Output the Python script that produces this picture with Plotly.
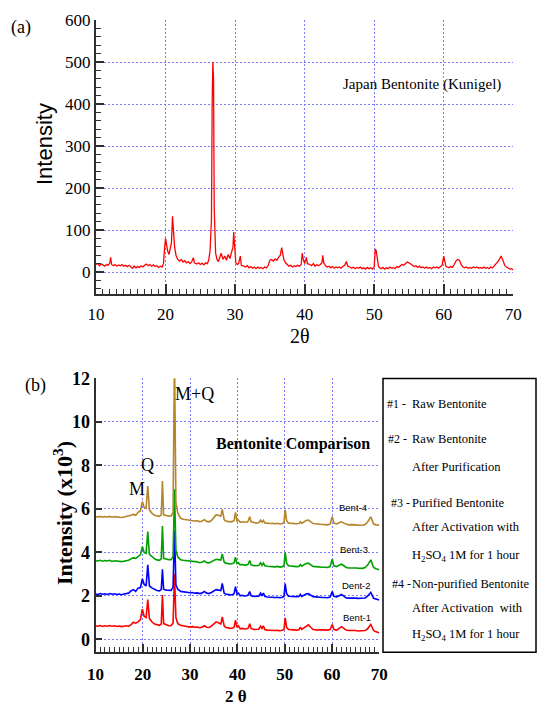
import plotly.graph_objects as go

W, H = 537, 708

# ---------------- data: panel (a) Japan Bentonite (Kunigel) ----------------
a_x = [
    10.0, 10.25, 10.5, 10.75, 11.0, 11.25, 11.5, 11.75, 12.0, 12.1,
    12.25, 12.5, 12.75, 13.0, 13.25, 13.5, 13.75, 14.0, 14.25, 14.5,
    14.75, 15.0, 15.25, 15.5, 15.75, 16.0, 16.25, 16.5, 16.75, 17.0,
    17.25, 17.5, 17.75, 18.0, 18.25, 18.5, 18.75, 19.0, 19.25, 19.5,
    19.7, 19.85, 20.0, 20.15, 20.3, 20.5, 20.7, 20.85, 21.0, 21.15,
    21.3, 21.5, 21.75, 22.0, 22.25, 22.5, 22.75, 23.0, 23.25, 23.5,
    23.75, 24.0, 24.15, 24.5, 24.75, 25.0, 25.25, 25.5, 25.75, 26.0,
    26.2, 26.4, 26.6, 26.7, 26.8, 26.9, 27.0, 27.2, 27.4, 27.6,
    27.75, 28.0, 28.25, 28.5, 28.75, 29.0, 29.25, 29.5, 29.7, 29.8,
    29.95, 30.1, 30.3, 30.5, 30.75, 30.9, 31.25, 31.5, 31.75, 32.0,
    32.25, 32.5, 32.75, 33.0, 33.25, 33.5, 33.75, 34.0, 34.25, 34.5,
    34.75, 35.0, 35.25, 35.5, 35.75, 36.0, 36.25, 36.5, 36.7, 36.85,
    37.0, 37.25, 37.5, 37.75, 38.0, 38.25, 38.5, 38.75, 39.0, 39.25,
    39.5, 39.65, 39.8, 40.0, 40.25, 40.4, 40.75, 41.0, 41.25, 41.5,
    41.75, 42.0, 42.25, 42.5, 42.6, 42.75, 43.0, 43.25, 43.5, 43.75,
    44.0, 44.25, 44.5, 44.75, 45.0, 45.25, 45.5, 45.75, 46.0, 46.2,
    46.5, 46.75, 47.0, 47.25, 47.5, 47.75, 48.0, 48.25, 48.5, 48.75,
    49.0, 49.25, 49.5, 49.75, 50.0, 50.15, 50.3, 50.45, 50.6, 50.75,
    51.0, 51.25, 51.5, 51.75, 52.0, 52.25, 52.5, 52.75, 53.0, 53.25,
    53.5, 53.75, 54.0, 54.25, 54.5, 54.75, 55.0, 55.25, 55.5, 55.75,
    56.0, 56.25, 56.5, 56.75, 57.0, 57.25, 57.5, 57.75, 58.0, 58.25,
    58.5, 58.75, 59.0, 59.25, 59.5, 59.75, 60.0, 60.15, 60.3, 60.5,
    60.75, 61.0, 61.25, 61.5, 61.75, 62.0, 62.25, 62.5, 62.75, 63.0,
    63.25, 63.5, 63.75, 64.0, 64.25, 64.5, 64.75, 65.0, 65.25, 65.5,
    65.75, 66.0, 66.25, 66.5, 66.75, 67.0, 67.25, 67.5, 67.75, 68.0,
    68.25, 68.4, 68.6, 68.8, 69.0, 69.25, 69.5, 69.75, 70.0,
]
a_y = [
    18, 20, 15, 19, 17, 14, 18, 16, 22, 35,
    18, 15, 18, 14, 17, 15, 18, 14, 16, 13,
    16, 12, 9, 14, 10, 13, 11, 15, 12, 16,
    19, 15, 18, 14, 17, 13, 15, 11, 14, 12,
    20, 55, 80, 65, 50, 42, 55, 70, 133, 95,
    60, 40, 30, 26, 30, 24, 27, 22, 25, 20,
    24, 34, 22, 19, 22, 18, 21, 17, 22, 20,
    28, 50, 125, 400, 500, 460, 150, 45, 30, 25,
    35, 45, 30, 38, 28, 42, 32, 45, 60, 95,
    45, 22, 18, 20, 38, 16, 14, 12, 15, 10,
    13, 9, 12, 8, 12, 9, 11, 8, 12, 10,
    15, 28, 30, 26, 31, 28, 35, 40, 58, 42,
    30, 22, 18, 14, 16, 12, 15, 13, 16, 14,
    18, 45, 30, 20, 35, 20, 18, 15, 20, 14,
    18, 15, 18, 22, 40, 22, 15, 12, 14, 10,
    13, 9, 12, 10, 12, 9, 13, 16, 25, 14,
    12, 9, 12, 8, 11, 9, 12, 8, 10, 7,
    11, 8, 10, 7, 12, 55, 50, 30, 15, 10,
    8, 11, 7, 10, 8, 12, 9, 11, 8, 13,
    11, 15, 18, 16, 20, 24, 22, 18, 16, 13,
    15, 11, 14, 10, 12, 9, 12, 9, 11, 8,
    12, 10, 12, 9, 13, 16, 38, 25, 14, 12,
    10, 13, 11, 18, 26, 30, 28, 18, 12, 10,
    12, 9, 11, 9, 12, 10, 12, 9, 11, 9,
    12, 9, 11, 8, 12, 10, 14, 18, 24, 30,
    38, 32, 22, 15, 12, 10, 7, 8, 5,
]
a_xticks = [10, 20, 30, 40, 50, 60, 70]
a_yticks = [0, 100, 200, 300, 400, 500, 600]

# ---------------- data: panel (b) Bentonite comparison (x10^3) ----------------
b_x = [
    10, 10.5, 11, 11.5, 12, 12.5, 13, 13.5, 14, 14.5,
    15, 15.5, 16, 16.5, 17, 17.5, 18, 18.5, 19, 19.5,
    19.9, 20.3, 20.7, 21.05, 21.4, 22, 22.5, 23, 23.5, 23.9,
    24.15, 24.4, 25, 25.5, 26, 26.4, 26.7, 27.0, 27.4, 28,
    28.5, 29, 29.5, 30, 30.5, 31, 31.5, 32, 32.5, 33,
    33.5, 34, 34.5, 35, 35.5, 36, 36.5, 36.8, 37.2, 37.5,
    38, 38.5, 39, 39.3, 39.6, 39.9, 40.2, 40.6, 41, 41.5,
    42, 42.3, 42.6, 42.9, 43.5, 44, 44.5, 44.9, 45.2, 45.5,
    45.8, 46.3, 47, 47.5, 48, 48.5, 49, 49.5, 49.85, 50.1,
    50.4, 50.8, 51.5, 52, 52.5, 53, 53.3, 53.6, 54, 54.5,
    55, 55.5, 56, 56.5, 57, 57.5, 58, 58.5, 59, 59.6,
    60.05, 60.4, 61, 61.5, 62, 62.5, 63, 63.5, 64, 64.5,
    65, 65.5, 66, 66.5, 67, 67.5, 68.2, 68.8, 69.3, 70,
]
bent1_y = [
    0.62, 0.60, 0.63, 0.59, 0.62, 0.60, 0.63, 0.60, 0.62, 0.59,
    0.61, 0.58, 0.60, 0.62, 0.60, 0.66, 0.78, 0.74, 0.80, 0.90,
    1.38, 1.05, 1.00, 1.82, 0.95, 0.78, 0.70, 0.66, 0.64, 0.70,
    2.03, 0.72, 0.66, 0.62, 0.63, 0.75, 3.00, 1.00, 0.72, 0.64,
    0.62, 0.60, 0.58, 0.56, 0.58, 0.55, 0.56, 0.53, 0.55, 0.62,
    0.55, 0.54, 0.60, 0.72, 0.80, 0.76, 0.70, 1.03, 0.62, 0.55,
    0.52, 0.50, 0.52, 0.55, 0.88, 0.55, 0.62, 0.48, 0.50, 0.47,
    0.48, 0.52, 0.71, 0.50, 0.45, 0.44, 0.46, 0.60, 0.50, 0.62,
    0.45, 0.42, 0.40, 0.42, 0.40, 0.41, 0.39, 0.41, 0.45, 0.98,
    0.55, 0.45, 0.43, 0.42, 0.42, 0.44, 0.56, 0.45, 0.52, 0.60,
    0.66, 0.55, 0.45, 0.44, 0.42, 0.44, 0.42, 0.43, 0.42, 0.45,
    0.68, 0.45, 0.42, 0.50, 0.58, 0.50, 0.42, 0.40, 0.41, 0.39,
    0.40, 0.38, 0.39, 0.37, 0.40, 0.48, 0.68, 0.40, 0.34, 0.30,
]
bent2_y = [
    2.08, 2.06, 2.10, 2.07, 2.09, 2.06, 2.10, 2.07, 2.09, 2.06,
    2.08, 2.05, 2.08, 2.10, 2.12, 2.22, 2.28, 2.20, 2.35, 2.38,
    2.78, 2.52, 2.45, 3.42, 2.45, 2.35, 2.28, 2.24, 2.22, 2.28,
    3.22, 2.30, 2.26, 2.24, 2.25, 2.40, 5.00, 2.50, 2.30, 2.20,
    2.18, 2.17, 2.15, 2.14, 2.15, 2.12, 2.13, 2.10, 2.12, 2.20,
    2.12, 2.10, 2.15, 2.22, 2.28, 2.26, 2.24, 2.57, 2.12, 2.08,
    2.06, 2.04, 2.06, 2.10, 2.42, 2.08, 2.12, 2.00, 2.02, 1.99,
    2.00, 2.05, 2.19, 2.00, 1.97, 1.96, 1.98, 2.12, 2.00, 2.12,
    1.97, 1.94, 1.92, 1.94, 1.92, 1.93, 1.91, 1.93, 1.97, 2.56,
    2.10, 1.98, 1.96, 1.95, 1.96, 1.97, 2.06, 1.97, 2.02, 2.08,
    2.10, 2.02, 1.96, 1.95, 1.93, 1.94, 1.92, 1.92, 1.91, 1.94,
    2.19, 1.98, 1.95, 2.00, 2.06, 1.98, 1.90, 1.89, 1.90, 1.88,
    1.89, 1.88, 1.88, 1.87, 1.90, 1.98, 2.15, 1.88, 1.84, 1.80,
]
bent3_y = [
    3.62, 3.60, 3.63, 3.59, 3.62, 3.60, 3.63, 3.58, 3.61, 3.59,
    3.60, 3.57, 3.59, 3.61, 3.63, 3.70, 3.74, 3.72, 3.82, 3.88,
    4.26, 3.98, 3.95, 4.95, 3.90, 3.78, 3.70, 3.65, 3.63, 3.70,
    5.21, 3.72, 3.68, 3.66, 3.66, 3.80, 6.90, 4.10, 3.78, 3.66,
    3.63, 3.62, 3.60, 3.57, 3.58, 3.55, 3.56, 3.52, 3.54, 3.60,
    3.52, 3.51, 3.56, 3.62, 3.68, 3.66, 3.64, 3.92, 3.55, 3.50,
    3.48, 3.46, 3.48, 3.52, 3.77, 3.48, 3.52, 3.42, 3.44, 3.41,
    3.42, 3.46, 3.62, 3.42, 3.38, 3.37, 3.39, 3.52, 3.40, 3.50,
    3.38, 3.36, 3.34, 3.36, 3.33, 3.35, 3.32, 3.34, 3.38, 4.00,
    3.50, 3.38, 3.35, 3.33, 3.34, 3.35, 3.44, 3.36, 3.42, 3.48,
    3.50, 3.42, 3.35, 3.34, 3.32, 3.33, 3.31, 3.31, 3.30, 3.34,
    3.68, 3.38, 3.34, 3.40, 3.45, 3.38, 3.30, 3.28, 3.29, 3.27,
    3.28, 3.27, 3.27, 3.26, 3.30, 3.40, 3.65, 3.30, 3.24, 3.20,
]
bent4_y = [
    5.64, 5.62, 5.65, 5.61, 5.64, 5.62, 5.65, 5.61, 5.64, 5.62,
    5.63, 5.60, 5.62, 5.64, 5.66, 5.70, 5.74, 5.70, 5.84, 5.90,
    6.33, 6.05, 6.02, 7.05, 5.95, 5.78, 5.70, 5.67, 5.65, 5.72,
    7.28, 5.72, 5.68, 5.66, 5.67, 5.85, 13.0, 6.30, 5.80, 5.56,
    5.52, 5.50, 5.48, 5.46, 5.47, 5.44, 5.45, 5.41, 5.43, 5.50,
    5.42, 5.40, 5.46, 5.60, 5.72, 5.70, 5.66, 5.97, 5.50, 5.44,
    5.42, 5.40, 5.42, 5.46, 5.83, 5.44, 5.48, 5.38, 5.40, 5.38,
    5.38, 5.44, 5.64, 5.40, 5.36, 5.34, 5.36, 5.48, 5.38, 5.46,
    5.35, 5.33, 5.32, 5.33, 5.31, 5.33, 5.30, 5.32, 5.36, 5.95,
    5.46, 5.34, 5.32, 5.30, 5.31, 5.32, 5.40, 5.33, 5.40, 5.46,
    5.48, 5.40, 5.32, 5.31, 5.29, 5.30, 5.28, 5.27, 5.26, 5.30,
    5.63, 5.34, 5.30, 5.36, 5.40, 5.34, 5.28, 5.26, 5.27, 5.25,
    5.26, 5.25, 5.25, 5.24, 5.28, 5.38, 5.63, 5.30, 5.26, 5.25,
]
b_series = ["Bent-1", "Bent-2", "Bent-3", "Bent-4"]
b_colors = ["#FF0000", "#0000FF", "#00A000", "#B5852A"]
b_yticks = [0, 2, 4, 6, 8, 10, 12]

legend_lines = [
    ("#1 -", "Raw Bentonite"),
    ("#2 -", "Raw Bentonite"),
    ("", "After Purification"),
    ("#3 -", "Purified Bentonite"),
    ("", "After Activation with"),
    ("", "H<sub>2</sub>SO<sub>4</sub> 1M for 1 hour"),
    ("#4 -", "Non-purified Bentonite"),
    ("", "After Activation  with"),
    ("", "H<sub>2</sub>SO<sub>4</sub> 1M for 1 hour"),
]

assert len(a_x) == len(a_y)
for s in (bent1_y, bent2_y, bent3_y, bent4_y):
    assert len(s) == len(b_x)

# ---------------- figure ----------------
SERIF = "Liberation Serif, Times New Roman, serif"
SANS = "Liberation Sans, Arial, sans-serif"
NARROW = "Liberation Sans Narrow, Arial Narrow, Liberation Sans, sans-serif"
AX = "#303030"
GRID = "#7B7BFF"


def fx(px):
    return px / W


def fy(py):
    return 1 - py / H


fig = go.Figure()
fig.add_trace(go.Scatter(x=a_x, y=a_y, mode="lines",
                         line=dict(color="#FF0000", width=1.3),
                         xaxis="x", yaxis="y", name="Kunigel"))
for name, ys, col in zip(b_series, [bent1_y, bent2_y, bent3_y, bent4_y], b_colors):
    fig.add_trace(go.Scatter(x=b_x, y=ys, mode="lines",
                             line=dict(color=col, width=1.6),
                             xaxis="x2", yaxis="y2", name=name))

common = dict(showline=True, linecolor=AX, linewidth=2, ticks="inside",
              tickcolor=AX, tickwidth=1.5, zeroline=False, showgrid=True,
              gridcolor=GRID, griddash="2px,2px", gridwidth=1, mirror=False,
              fixedrange=True, automargin=False)

fig.update_layout(
    template="none",
    width=W, height=H, autosize=False,
    margin=dict(l=0, r=0, t=0, b=0, pad=0, autoexpand=False),
    paper_bgcolor="white", plot_bgcolor="white",
    showlegend=False,
    font=dict(family=SERIF, color="black"),
    xaxis=dict(common, domain=[fx(96), fx(513.3)], range=[10, 70],
               tickvals=a_xticks, ticklen=10, anchor="y",
               tickfont=dict(family=SERIF, size=17, color="black"),
               ticklabelstandoff=3,
               minor=dict(dtick=1, tick0=10, ticklen=5, ticks="inside",
                          tickcolor=AX, tickwidth=1.2, showgrid=False)),
    yaxis=dict(common, domain=[fy(294.3), fy(20)], range=[-53, 600],
               tickvals=a_yticks, ticklen=8, anchor="x",
               tickfont=dict(family=SERIF, size=17, color="black"),
               minor=dict(dtick=20, tick0=0, ticklen=5, ticks="inside",
                          tickcolor=AX, tickwidth=1.2, showgrid=False)),
    xaxis2=dict(common, domain=[fx(95.5), fx(379.3)], range=[10, 70],
                tickvals=a_xticks, ticklen=8, anchor="y2",
                tickfont=dict(family=SERIF, size=17, color="black", weight="bold"),
                ticklabelstandoff=5,
                minor=dict(dtick=1, tick0=10, ticklen=5, ticks="inside",
                           tickcolor=AX, tickwidth=1.2, showgrid=False)),
    yaxis2=dict(common, domain=[fy(652.3), fy(378.3)], range=[-0.6, 12],
                tickvals=b_yticks, ticklen=6, anchor="x2",
                tickfont=dict(family=SERIF, size=18, color="black", weight="bold")),
)

anns = []


def ann(text, px, py, size, family=SERIF, xanchor="center", angle=0, bold=False):
    anns.append(dict(text=text, x=fx(px), y=fy(py), xref="paper", yref="paper",
                     xanchor=xanchor, yanchor="middle", showarrow=False,
                     textangle=angle, borderpad=0,
                     font=dict(family=family, size=size, color="black",
                               weight="bold" if bold else "normal")))


# panel (a)
ann("(a)", 21, 27, 18)
ann("Intensity", 44, 144, 22, family=SANS, angle=-90)
ann("Japan Bentonite (Kunigel)", 422, 84, 15)
ann("2θ", 300, 336, 20)

# panel (b)
ann("(b)", 35.5, 385.5, 18)
ann("Intensity (x10<sup>3</sup>)", 63, 513, 22, angle=-90, bold=True)
ann("M", 136.7, 489, 18)
ann("Q", 147, 465, 18)
ann("M+Q", 194, 394, 18)
ann("Bentonite Comparison", 292.6, 444, 16, bold=True)
ann("Bent-4", 352.6, 507.4, 9.5, family=NARROW)
ann("Bent-3", 354.3, 549.8, 9.5, family=NARROW)
ann("Dent-2", 356, 585.3, 9.5, family=NARROW)
ann("Bent-1", 357, 617.4, 9.5, family=NARROW)
ann("2 θ", 236, 696, 17, bold=True)

# legend box text
legend_y = [403.5, 439, 466.5, 503.5, 527, 556, 584, 607.5, 635]
prefix_x = {"#1 -": 386, "#2 -": 387, "#3 -": 390, "#4 -": 391}
for (pre, txt), yy in zip(legend_lines, legend_y):
    if pre:
        ann(pre, prefix_x[pre], yy, 12, xanchor="left")
    ann(txt, 411, yy, 12.5, xanchor="left")

fig.update_layout(annotations=anns)
fig.add_shape(type="rect", xref="paper", yref="paper",
              x0=fx(383), x1=fx(536), y0=fy(652.3), y1=fy(378.5),
              line=dict(color="black", width=1.5), fillcolor="rgba(0,0,0,0)")

fig.write_html("out.html", config={"displayModeBar": False},
               post_script="document.body.style.margin='0px';document.body.style.overflow='hidden';")
